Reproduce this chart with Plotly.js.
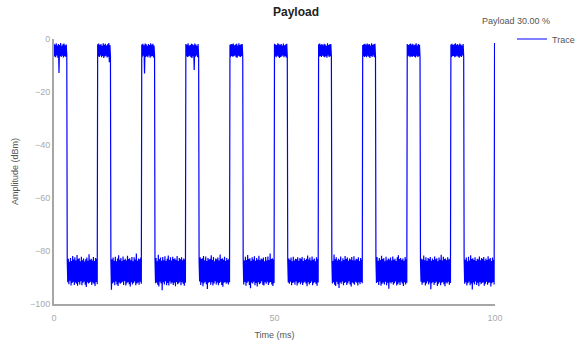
<!DOCTYPE html>
<html>
<head>
<meta charset="utf-8">
<script src="https://cdn.plot.ly/plotly-3.0.1.min.js"></script>
<style>html,body{margin:0;padding:0;background:#fff;}#chart{width:580px;height:347px;}</style>
</head>
<body>
<div id="chart"></div>
<script>
// ---- data ----
const chartTitle = "Payload";
const payloadNote = "Payload 30.00 %";
const traceName = "Trace";
const xTitle = "Time (ms)";
const yTitle = "Amplitude (dBm)";
const xTickValues = [0, 50, 100];
const yTickValues = [0, -20, -40, -60, -80, -100];

// start time of each "on" burst (ms) and burst length (ms)
const burstStartMs = [0, 9.9, 19.9, 29.9, 39.9, 50.0, 60.0, 70.0, 80.1, 90.0, 99.9];
const burstLengthMs = 2.9;
const lastBurstEndMs = 100;

// amplitude samples during each "on" burst (dBm)
const highSamples = [
  [-1.8,-6.6,-2.2,-6.9,-1.6,-6.2,-2.5,-7.1,-1.9,-12.8,-2.3,-6.4,-1.5,-6.8,-2.6,-6.3,-2.0,-7.0,-1.7,-6.5,-2.4,-6.7,-2.1,-6.1],
  [-2.0,-6.5,-1.7,-6.8,-2.3,-6.2,-1.9,-6.9,-2.6,-6.4,-1.6,-7.2,-2.2,-6.6,-1.8,-6.3,-2.5,-7.0,-2.0,-6.7,-1.5,-8.8,-2.3,-6.4],
  [-2.1,-6.7,-1.8,-6.3,-2.4,-13.0,-1.7,-6.8,-2.0,-6.5,-2.6,-6.9,-1.9,-6.2,-2.3,-7.1,-1.6,-6.6,-2.2,-6.4,-1.8,-7.0,-2.5,-6.3],
  [-1.9,-6.4,-2.2,-6.8,-1.6,-6.6,-2.5,-6.3,-2.3,-6.9,-1.8,-7.2,-2.0,-6.5,-2.4,-11.7,-1.7,-6.7,-2.1,-6.2,-2.6,-6.9,-1.9,-6.5],
  [-2.2,-6.8,-1.9,-6.4,-2.0,-6.7,-1.7,-6.5,-2.4,-6.2,-2.1,-6.9,-1.8,-7.1,-2.5,-6.3,-1.6,-6.6,-2.3,-6.8,-2.0,-6.4,-1.9,-6.7],
  [-1.8,-6.5,-2.1,-6.9,-2.3,-6.3,-1.6,-6.7,-2.0,-7.2,-2.2,-6.8,-1.9,-6.6,-2.5,-6.2,-1.7,-6.9,-2.4,-6.4,-2.1,-7.0,-1.8,-6.5],
  [-2.0,-6.7,-1.7,-6.4,-2.2,-6.8,-1.9,-6.3,-2.4,-6.6,-1.8,-6.9,-2.1,-6.5,-2.6,-7.1,-1.6,-6.2,-2.3,-6.8,-2.0,-6.5,-1.9,-6.7],
  [-2.3,-6.4,-2.0,-6.8,-1.8,-6.5,-2.2,-6.9,-1.7,-6.3,-2.1,-6.7,-1.9,-7.2,-2.5,-6.4,-1.6,-6.8,-2.2,-6.2,-2.0,-6.9,-1.8,-6.6],
  [-1.9,-6.6,-2.3,-6.3,-2.0,-6.9,-1.7,-6.5,-2.2,-6.8,-1.8,-6.4,-2.4,-6.7,-2.1,-7.0,-1.6,-6.3,-2.5,-6.8,-1.9,-6.5,-2.2,-6.9],
  [-2.1,-6.8,-1.8,-6.5,-2.3,-6.4,-2.0,-6.9,-1.6,-6.6,-2.2,-6.3,-1.9,-6.7,-2.4,-7.1,-1.7,-6.5,-2.1,-6.8,-2.5,-6.2,-1.9,-6.6],
  [-1.5,-5.8]
];

// amplitude samples during each "off" gap (dBm)
const lowSamples = [
  [-83.4,-91.8,-82.9,-92.5,-84.1,-91.2,-82.6,-93.0,-83.8,-92.1,-81.9,-91.6,-83.2,-92.8,
   -82.4,-91.9,-83.6,-92.4,-81.5,-93.1,-83.0,-91.7,-82.7,-92.6,-83.9,-91.4,-82.2,-92.9,
   -83.5,-92.0,-82.8,-91.5,-84.0,-92.7,-83.1,-93.6,-82.5,-91.8,-83.7,-92.3,-81.2,-92.0,
   -83.3,-91.6,-82.9,-92.8,-83.6,-91.9,-82.3,-92.4,-83.8,-93.2,-82.6,-91.7,-83.0,-92.5],
  [-84.0,-94.6,-83.1,-92.3,-82.5,-91.8,-83.7,-92.9,-82.2,-91.5,-83.9,-92.6,-82.8,-93.2,
   -81.6,-91.9,-83.3,-92.4,-82.6,-92.0,-83.8,-91.6,-82.1,-92.8,-83.4,-91.3,-82.9,-93.0,
   -83.6,-92.2,-81.8,-91.7,-83.0,-92.5,-82.7,-93.4,-83.5,-91.8,-82.3,-92.6,-83.9,-92.1,
   -82.4,-91.5,-83.2,-92.9,-80.9,-92.3,-83.7,-91.9,-82.8,-92.7,-83.1,-91.6,-82.5,-92.4],
  [-83.2,-92.2,-82.6,-91.9,-83.9,-92.7,-81.4,-93.4,-83.1,-91.6,-82.5,-92.3,-83.7,-94.8,
   -82.3,-91.8,-83.5,-92.6,-82.0,-91.4,-83.8,-92.9,-82.9,-92.1,-81.7,-93.0,-83.3,-91.5,
   -82.4,-92.4,-83.6,-91.9,-82.2,-92.8,-83.0,-92.0,-82.7,-93.3,-83.4,-91.7,-81.9,-92.5,
   -83.8,-92.2,-82.6,-91.6,-83.1,-92.9,-82.4,-91.8,-83.5,-92.4,-82.8,-93.1,-83.2,-92.0],
  [-83.7,-91.5,-82.4,-92.8,-83.0,-91.9,-82.7,-93.3,-81.9,-92.2,-83.5,-91.6,-82.1,-92.5,
   -83.8,-94.3,-82.6,-92.0,-83.2,-91.7,-82.9,-92.7,-81.6,-91.8,-83.4,-93.0,-82.3,-92.3,
   -83.9,-91.4,-82.8,-92.6,-83.1,-91.9,-82.5,-92.9,-83.6,-92.1,-81.3,-91.6,-83.0,-92.8,
   -82.7,-93.5,-83.3,-92.0,-82.2,-91.7,-83.8,-92.4,-82.6,-91.9,-83.4,-92.6,-82.9,-91.8],
  [-82.9,-92.6,-83.6,-91.7,-82.2,-93.1,-83.4,-92.0,-81.5,-91.5,-83.0,-92.8,-82.7,-94.1,
   -83.8,-91.9,-82.4,-92.3,-83.2,-91.6,-82.0,-92.9,-83.7,-92.1,-82.6,-93.4,-83.3,-91.8,
   -81.8,-92.5,-83.5,-92.2,-82.8,-91.4,-83.1,-92.7,-82.5,-93.0,-83.9,-91.8,-82.3,-92.4,
   -83.6,-91.6,-82.1,-92.8,-83.4,-92.0,-80.9,-91.7,-83.0,-92.6,-82.7,-93.2,-83.2,-92.1],
  [-83.5,-91.9,-82.8,-92.4,-83.3,-91.6,-82.5,-92.9,-83.9,-92.1,-82.2,-91.8,-83.6,-92.7,
   -82.9,-91.5,-83.1,-93.0,-82.4,-92.2,-83.7,-91.7,-82.6,-92.5,-83.0,-91.9,-82.3,-92.8,
   -83.8,-92.0,-82.7,-91.6,-83.4,-92.3,-82.9,-93.3,-81.7,-91.8,-83.2,-92.6,-82.5,-92.1,
   -83.6,-91.5,-82.1,-92.9,-83.3,-92.2,-82.8,-91.7,-83.9,-92.4,-82.4,-93.1,-83.0,-91.9],
  [-82.6,-92.3,-83.8,-91.8,-81.3,-92.7,-83.1,-93.2,-82.4,-91.6,-83.6,-92.5,-82.9,-94.0,
   -83.3,-91.9,-82.1,-92.4,-83.9,-91.5,-82.7,-92.9,-83.4,-92.1,-81.9,-91.7,-83.0,-92.8,
   -82.5,-92.2,-83.7,-91.4,-82.8,-92.6,-83.2,-93.4,-82.3,-91.9,-83.5,-92.3,-82.0,-92.7,
   -83.6,-91.6,-82.9,-92.0,-83.1,-93.0,-82.4,-91.8,-83.8,-92.5,-82.6,-91.7,-83.3,-92.2],
  [-83.1,-92.1,-82.3,-91.7,-83.7,-92.8,-82.6,-91.5,-83.4,-93.1,-81.8,-92.4,-83.0,-91.9,
   -82.7,-92.6,-83.9,-91.6,-82.2,-92.9,-83.5,-92.0,-82.8,-94.2,-83.2,-91.8,-82.5,-92.3,
   -83.6,-91.7,-82.1,-92.7,-83.3,-92.2,-82.9,-91.5,-83.8,-93.0,-82.4,-92.5,-81.6,-91.9,
   -83.0,-92.8,-82.6,-91.6,-83.4,-92.3,-82.8,-93.2,-83.7,-91.8,-82.3,-92.6,-83.1,-92.0],
  [-83.6,-91.6,-82.9,-92.7,-83.2,-92.0,-81.7,-91.8,-83.5,-93.0,-82.4,-92.3,-83.8,-91.5,
   -82.6,-92.6,-83.0,-91.9,-82.3,-94.4,-83.7,-92.2,-82.8,-91.7,-83.4,-92.8,-82.1,-92.1,
   -83.1,-91.6,-82.7,-93.2,-83.9,-92.4,-82.5,-91.8,-83.3,-92.9,-81.4,-92.0,-83.6,-91.7,
   -82.2,-92.5,-83.0,-93.3,-82.8,-91.9,-83.5,-92.3,-82.4,-91.6,-83.2,-92.7,-82.9,-92.1],
  [-82.8,-92.4,-83.3,-91.8,-82.5,-93.0,-83.9,-92.2,-82.2,-91.6,-83.6,-92.9,-81.6,-92.3,
   -83.0,-94.5,-82.7,-91.9,-83.4,-92.6,-82.4,-91.5,-83.8,-92.8,-82.9,-92.0,-83.2,-93.3,
   -82.1,-91.7,-83.5,-92.5,-82.6,-92.1,-83.0,-91.8,-82.3,-93.1,-83.7,-92.4,-82.8,-91.6,
   -83.4,-92.7,-82.0,-92.0,-83.1,-91.9,-82.6,-93.4,-83.8,-92.2,-82.5,-91.7,-83.3,-92.6]
];

// ---- build the trace from the samples ----
const timeMs = [];
const amplitude = [];
for (let k = 0; k < burstStartMs.length; k++) {
  const hs = highSamples[k];
  const hStart = burstStartMs[k];
  const hEnd = (k === burstStartMs.length - 1) ? lastBurstEndMs : hStart + burstLengthMs;
  for (let i = 0; i < hs.length; i++) {
    timeMs.push(hStart + (hEnd - hStart) * i / (hs.length - 1));
    amplitude.push(hs[i]);
  }
  if (k < lowSamples.length) {
    const ls = lowSamples[k];
    const lStart = hEnd + 0.1;
    const lEnd = burstStartMs[k + 1] - 0.1;
    for (let i = 0; i < ls.length; i++) {
      timeMs.push(lStart + (lEnd - lStart) * i / (ls.length - 1));
      amplitude.push(ls[i]);
    }
  }
}

const trace = {
  x: timeMs,
  y: amplitude,
  type: "scatter",
  mode: "lines",
  name: traceName,
  line: { color: "#0000ff", width: 1.2, simplify: false },
  showlegend: true
};

const axisFont = { family: "Liberation Sans, Arial, sans-serif", size: 9, color: "#aaaaaa" };

const layout = {
  width: 580,
  height: 347,
  margin: { l: 54, r: 85, t: 39, b: 43, autoexpand: false },
  paper_bgcolor: "#ffffff",
  plot_bgcolor: "#ffffff",
  font: { family: "Liberation Sans, Arial, sans-serif", size: 9, color: "#555555" },
  title: {
    text: "<b>" + chartTitle + "</b>",
    font: { family: "Liberation Sans, Arial, sans-serif", size: 12, color: "#222222" },
    x: 296 / 580, xref: "container", xanchor: "center",
    y: 1 - 12 / 347, yref: "container", yanchor: "middle"
  },
  xaxis: {
    range: [0, 100],
    tickvals: xTickValues,
    ticks: "",
    showgrid: false,
    zeroline: false,
    showline: true,
    linecolor: "#a6a6a6",
    linewidth: 2,
    tickfont: axisFont,
    ticklabelstandoff: 4,
    automargin: false,
    title: { text: xTitle, font: { size: 9, color: "#555555" }, standoff: 10 }
  },
  yaxis: {
    range: [-100, 0],
    tickvals: yTickValues,
    ticks: "",
    showgrid: false,
    zeroline: false,
    showline: true,
    linecolor: "#a6a6a6",
    linewidth: 2,
    tickfont: axisFont,
    automargin: false,
    title: { text: yTitle, font: { size: 9, color: "#555555" }, standoff: 10 }
  },
  showlegend: true,
  legend: {
    x: 1 + 17 / 441, xanchor: "left",
    y: 1.0, yanchor: "middle",
    font: { size: 9, color: "#555555" },
    bgcolor: "rgba(0,0,0,0)",
    itemwidth: 30
  },
  annotations: [{
    text: payloadNote,
    xref: "paper", yref: "paper",
    x: (516 - 54) / 441, y: (304 - 21) / 265,
    xanchor: "center", yanchor: "middle",
    showarrow: false,
    font: { size: 9, color: "#555555" }
  }]
};

Plotly.newPlot("chart", [trace], layout, { displayModeBar: false, staticPlot: true });
</script>
</body>
</html>
